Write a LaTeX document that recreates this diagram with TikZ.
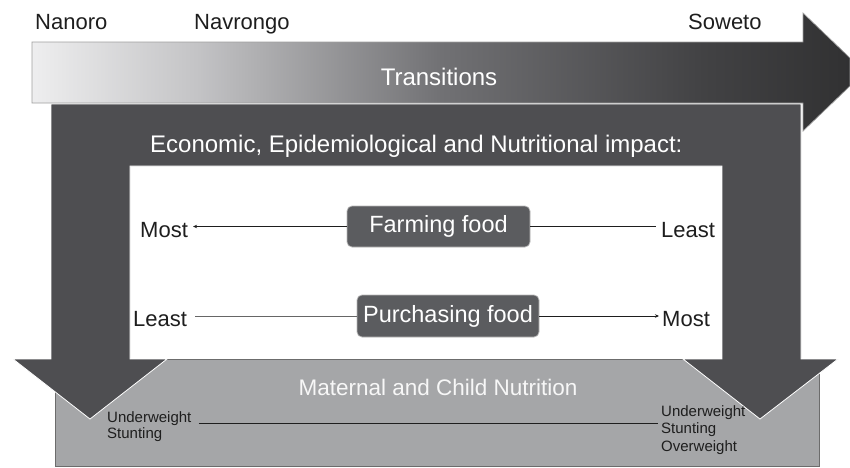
\documentclass[tikz,border=0pt]{standalone}
\usepackage{fontspec}
\setmainfont{Liberation Sans}
\usetikzlibrary{arrows.meta}
\definecolor{darkfill}{HTML}{4E4E51}
\definecolor{greybox}{HTML}{A5A6A8}
\definecolor{boxfill}{HTML}{5B5C5F}
\definecolor{inkc}{HTML}{1E1E1E}
\definecolor{tA}{HTML}{EEEEEF}
\definecolor{tB}{HTML}{C4C4C6}
\definecolor{tC}{HTML}{717174}
\definecolor{tD}{HTML}{424244}
\definecolor{tE}{HTML}{313132}
\pgfdeclarehorizontalshading{transshade}{100bp}{color(0bp)=(tA); color(25bp)=(tA); color(35bp)=(tB); color(50bp)=(tC); color(66bp)=(tD); color(75bp)=(tE); color(100bp)=(tE)}
\tikzset{
  place/.style={inner sep=0pt, anchor=base west, text=inkc, font=\fontsize{22}{25}\selectfont},
  small/.style={inner sep=0pt, anchor=base west, text=inkc, font=\fontsize{15}{17}\selectfont},
  foodbox/.style={rounded corners=5pt, fill=boxfill, draw=gray!55, line width=0.7pt, text=white, inner sep=0pt, font=\fontsize{23.5}{26}\selectfont},
  conn/.style={draw=inkc, line width=0.9pt},
  tip/.style={-{Stealth[length=4pt,width=3.5pt]}}
}
\begin{document}
\begin{tikzpicture}[x=1pt,y=-1pt]
\useasboundingbox (0,0) rectangle (850,467);
\fill[white] (0,0) rectangle (850,467);
% grey bottom box
\filldraw[fill=greybox, draw=gray!85!black, line width=0.6pt] (55,359) rectangle (819,466);
% dark U shape with two down arrows
\filldraw[fill=darkfill, draw=white, line width=0.8pt]
  (51,104) -- (801,104) -- (801,359) -- (838,359) -- (760,419) -- (683,359) -- (722,359)
  -- (722,166) -- (130,166) -- (130,359) -- (167,359) -- (90,419) -- (13,359) -- (51,359) -- cycle;
% transitions arrow
\shadedraw[shading=transshade, draw=gray!75, line width=0.7pt]
  (32,42) -- (803,42) -- (803,13) -- (850,58) -- (850,86) -- (803,131) -- (803,103) -- (32,103) -- cycle;
% labels
\node[place] (nanoro) at (35,29) {Nanoro};
\node[place] (navrongo) at (194,29) {Navrongo};
\node[place] (soweto) at (688,29) {Soweto};
\node[inner sep=0pt, anchor=base, text=white, font=\fontsize{24}{27}\selectfont] (trans) at (439,85) {Transitions};
\node[inner sep=0pt, anchor=base west, text=white, font=\fontsize{24}{27}\selectfont] (impact) at (150,152) {Economic, Epidemiological and Nutritional impact:};
% food boxes
\node[foodbox, minimum width=183pt, minimum height=41pt] (farm) at (438.5,226.5) {Farming food};
\node[foodbox, minimum width=182pt, minimum height=42pt] (purch) at (448,316) {Purchasing food};
\node[place] (mostA) at (140,237) {Most};
\node[place] (leastA) at (661,237) {Least};
\node[place] (leastB) at (133,326) {Least};
\node[place] (mostB) at (662,326) {Most};
\draw[conn, tip, shorten >=5pt] (farm.west) -- (farm.west -| mostA.east);
\draw[conn, shorten >=5pt] (farm.east) -- (farm.east -| leastA.west);
\draw[conn, draw=gray!80!black, line width=0.8pt, shorten <=8pt] (purch.west -| leastB.east) -- (purch.west);
\draw[conn, tip, shorten >=3pt] (purch.east) -- (purch.east -| mostB.west);
% bottom
\node[inner sep=0pt, anchor=base, text=white!94!gray, font=\fontsize{22.5}{25}\selectfont] (mcn) at (438,395) {Maternal and Child Nutrition};
\node[small] (uwl) at (107,422) {Underweight};
\node[small] (stl) at (107,438) {Stunting};
\node[small] (uwr) at (661,416) {Underweight};
\node[small] (str) at (661,433) {Stunting};
\node[small] (owr) at (661,451) {Overweight};
\draw[conn, line width=1pt, shorten <=7pt, shorten >=3pt] ([yshift=-1pt]uwl.base east) -- ([yshift=-1pt]uwl.base east -| uwr.west);
\end{tikzpicture}
\end{document}
